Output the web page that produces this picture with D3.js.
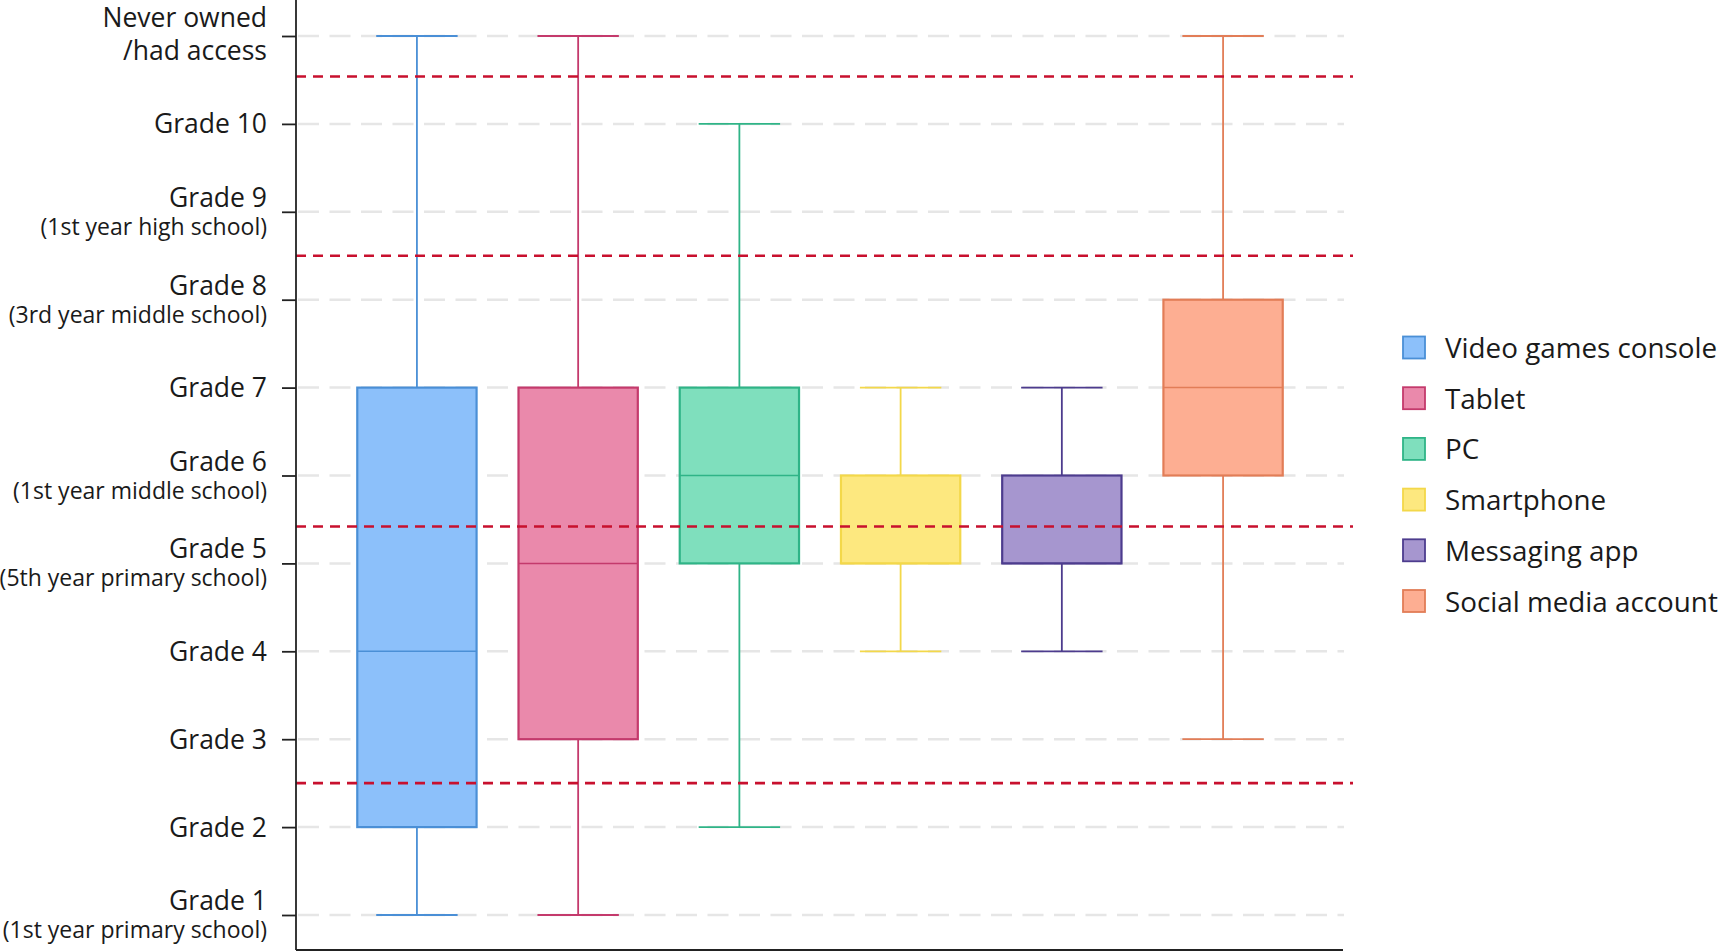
<!DOCTYPE html>
<html>
<head>
<meta charset="utf-8">
<script src="https://cdn.jsdelivr.net/npm/d3@7"></script>
<style>
  body { margin: 0; background: #fff; }
  text { font-family: "Open Sans", Roboto, sans-serif; fill: #1a1a1a; }
</style>
</head>
<body>
<div id="chart"></div>
<script>
// data
var categories = ["Video games console", "Tablet", "PC", "Smartphone", "Messaging app", "Social media account"];
var whiskerLow  = [1, 1, 2, 4, 4, 3];
var q1          = [2, 3, 5, 5, 5, 6];
var median      = [4, 5, 6, 5, 5, 7];
var q3          = [7, 7, 7, 6, 6, 8];
var whiskerHigh = [11, 11, 10, 7, 7, 11];
var refLines    = [10.54, 8.5, 5.42, 2.5];

// tick values and labels (11 = never owned)
var tickValues = [1, 2, 3, 4, 5, 6, 7, 8, 9, 10, 11];
var tickMain = ["Grade 1", "Grade 2", "Grade 3", "Grade 4", "Grade 5", "Grade 6", "Grade 7",
                "Grade 8", "Grade 9", "Grade 10", "Never owned"];
var tickSub = ["(1st year primary school)", "", "", "", "(5th year primary school)", "(1st year middle school)", "",
               "(3rd year middle school)", "(1st year high school)", "", "/had access"];

var fills   = ["#8cc0fa", "#ea89ab", "#7fdfbd", "#fde87f", "#a696cf", "#fdae92"];
var strokes = ["#4a8fd6", "#c43a6c", "#2fb487", "#f3d84a", "#4d3c8e", "#e27d57"];

var W = 1718, H = 952;
var plotL = 296, plotR = 1344, plotT = 36, plotB = 915, axisBottom = 950;

var svg = d3.select("#chart").append("svg")
  .attr("width", W)
  .attr("height", H);

var y = d3.scaleLinear().domain([1, 11]).range([plotB, plotT]);
var x = d3.scalePoint().domain(categories).range([plotL, plotR]).padding(0.75);
var step = x.step();
var boxW = step * 0.74;
var capW = step * 0.505;

// light dashed grid
svg.append("g")
  .selectAll("line")
  .data(tickValues)
  .enter().append("line")
  .attr("x1", plotL + 2)
  .attr("x2", plotR)
  .attr("y1", function(d) { return y(d); })
  .attr("y2", function(d) { return y(d); })
  .style("stroke", "#e6e6e6")
  .style("stroke-width", 2.5)
  .style("stroke-dasharray", "21,10.5");

// boxes
var idx = d3.range(categories.length);
var g = svg.append("g").selectAll("g")
  .data(idx)
  .enter().append("g");

// whisker stems
g.append("line")
  .attr("x1", function(i) { return x(categories[i]); })
  .attr("x2", function(i) { return x(categories[i]); })
  .attr("y1", function(i) { return y(whiskerHigh[i]); })
  .attr("y2", function(i) { return y(whiskerLow[i]); })
  .style("stroke", function(i) { return strokes[i]; })
  .style("stroke-width", 1.8);

// caps
[whiskerLow, whiskerHigh].forEach(function(arr) {
  g.append("line")
    .attr("x1", function(i) { return x(categories[i]) - capW / 2; })
    .attr("x2", function(i) { return x(categories[i]) + capW / 2; })
    .attr("y1", function(i) { return y(arr[i]); })
    .attr("y2", function(i) { return y(arr[i]); })
    .style("stroke", function(i) { return strokes[i]; })
    .style("stroke-width", 1.8);
});

g.append("rect")
  .attr("x", function(i) { return x(categories[i]) - boxW / 2; })
  .attr("width", boxW)
  .attr("y", function(i) { return y(q3[i]); })
  .attr("height", function(i) { return y(q1[i]) - y(q3[i]); })
  .style("fill", function(i) { return fills[i]; })
  .style("stroke", function(i) { return strokes[i]; })
  .style("stroke-width", 2.2);

g.append("line")
  .attr("x1", function(i) { return x(categories[i]) - boxW / 2; })
  .attr("x2", function(i) { return x(categories[i]) + boxW / 2; })
  .attr("y1", function(i) { return y(median[i]); })
  .attr("y2", function(i) { return y(median[i]); })
  .style("stroke", function(i) { return strokes[i]; })
  .style("stroke-width", 1.5);

// red reference lines
svg.append("g")
  .selectAll("line")
  .data(refLines)
  .enter().append("line")
  .attr("x1", plotL)
  .attr("x2", plotR + 9)
  .attr("y1", function(d) { return y(d); })
  .attr("y2", function(d) { return y(d); })
  .style("stroke", "#c8102e")
  .style("stroke-width", 2.6)
  .style("stroke-dasharray", "10,7");

// axes
var yAxis = d3.axisLeft(y).tickValues(tickValues).tickSize(14).tickFormat("");
var ya = svg.append("g")
  .attr("transform", "translate(" + plotL + ",0)")
  .call(yAxis);
ya.select(".domain").remove();
ya.selectAll(".tick line").style("stroke", "#222").style("stroke-width", 1.8);

svg.append("line")
  .attr("x1", plotL).attr("x2", plotL)
  .attr("y1", 0).attr("y2", axisBottom)
  .style("stroke", "#222").style("stroke-width", 1.8);
svg.append("line")
  .attr("x1", plotL).attr("x2", plotR - 1)
  .attr("y1", axisBottom).attr("y2", axisBottom)
  .style("stroke", "#222").style("stroke-width", 1.8);

// tick labels
var lab = svg.append("g").selectAll("text")
  .data(tickValues)
  .enter().append("text")
  .attr("text-anchor", "end")
  .attr("x", 267);

lab.each(function(d, i) {
  var t = d3.select(this);
  var ty = y(d);
  if (tickSub[i] === "") {
    t.append("tspan").attr("x", 267).attr("y", ty + 9.5)
      .style("font-size", "26.5px").text(tickMain[i]);
  } else if (d === 11) {
    t.append("tspan").attr("x", 267).attr("y", ty - 9)
      .style("font-size", "26.5px").text(tickMain[i]);
    t.append("tspan").attr("x", 267).attr("y", ty + 24)
      .style("font-size", "26.5px").text(tickSub[i]);
  } else {
    t.append("tspan").attr("x", 267).attr("y", ty - 5)
      .style("font-size", "26.5px").text(tickMain[i]);
    t.append("tspan").attr("x", 267).attr("y", ty + 23)
      .style("font-size", "23px").text(tickSub[i]);
  }
});

// legend
var leg = svg.append("g").selectAll("g")
  .data(idx)
  .enter().append("g")
  .attr("transform", function(i) { return "translate(1403," + (348 + i * 50.7) + ")"; });

leg.append("rect")
  .attr("x", 0).attr("y", -11.5)
  .attr("width", 22).attr("height", 22)
  .style("fill", function(i) { return fills[i]; })
  .style("stroke", function(i) { return strokes[i]; })
  .style("stroke-width", 1.8);

leg.append("text")
  .attr("x", 42).attr("y", 10)
  .style("font-size", "27.8px")
  .text(function(i) { return categories[i]; });
</script>
</body>
</html>
